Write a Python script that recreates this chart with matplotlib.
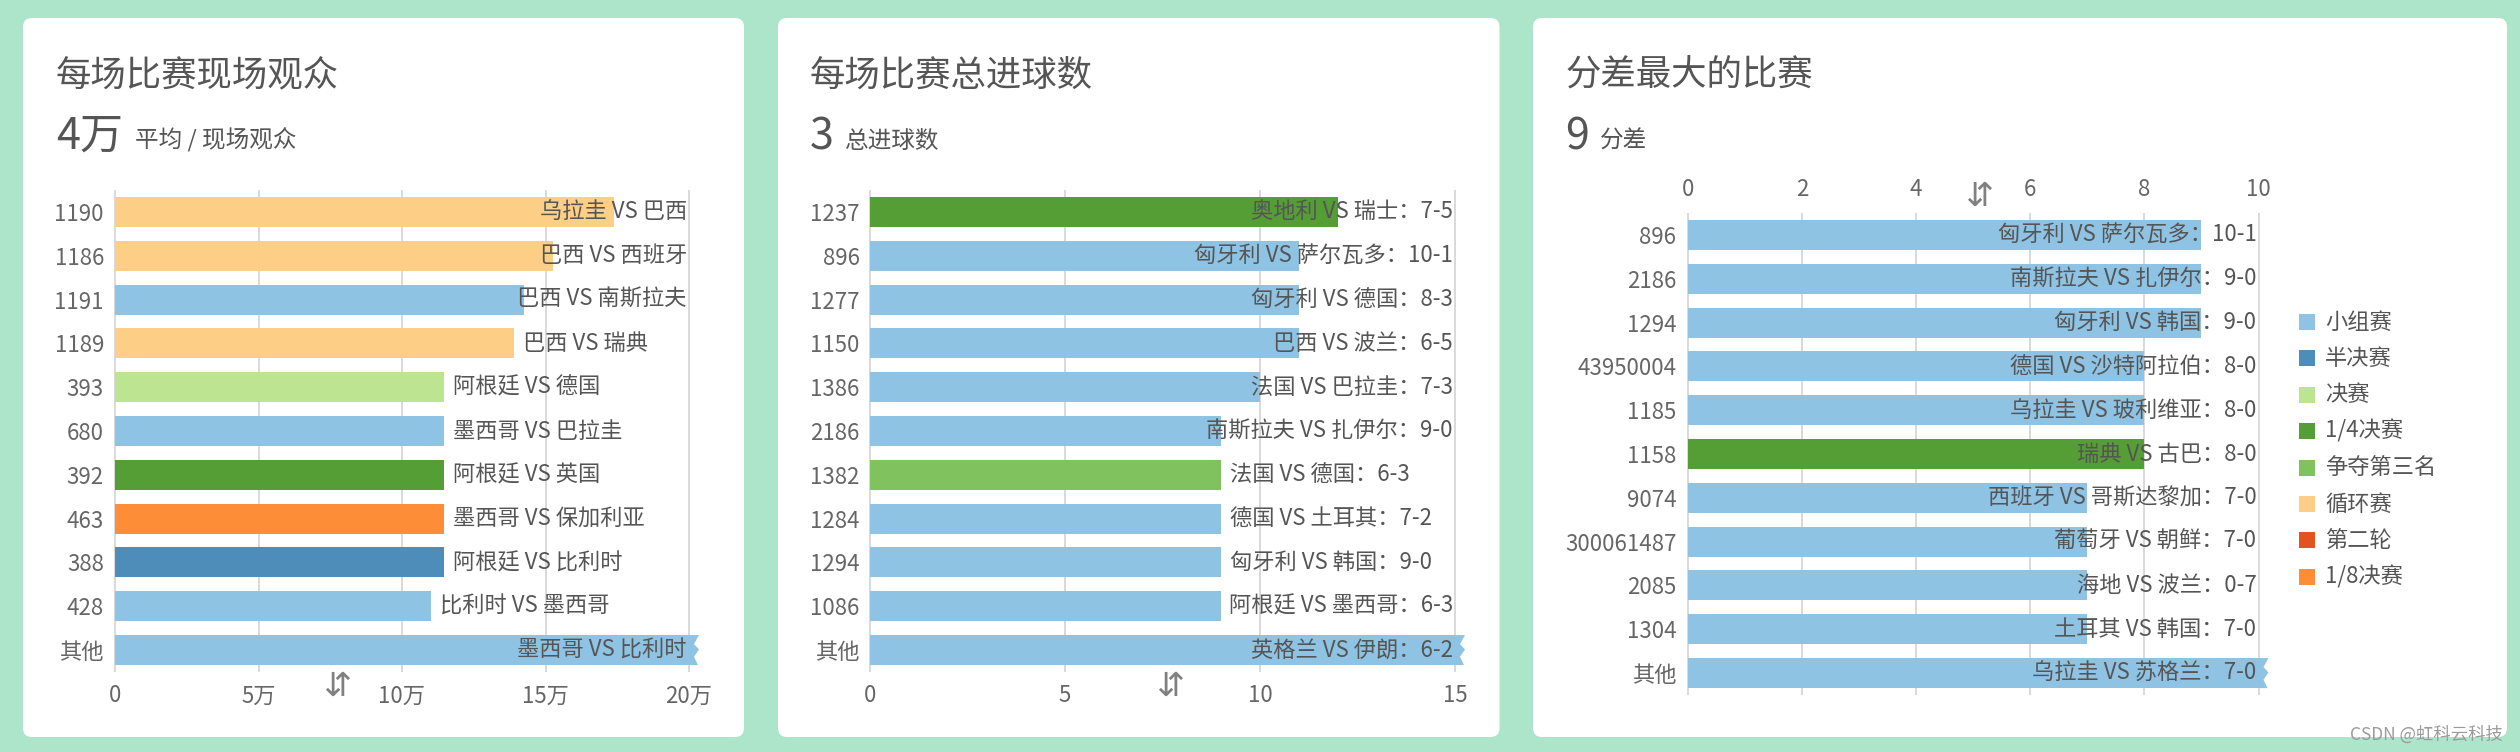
import matplotlib
matplotlib.use('Agg')
import matplotlib.pyplot as plt
from matplotlib.patches import FancyBboxPatch, Rectangle, Polygon
import numpy as np

plt.rcParams['font.family'] = ['Noto Sans CJK SC', 'DejaVu Sans']

# ---------------- data ----------------
stage_names = ['小组赛', '半决赛', '决赛', '1/4决赛', '争夺第三名', '循环赛', '第二轮', '1/8决赛']
stage_colors = ['#8fc3e4', '#4e8cba', '#bde591', '#559e36', '#7fc25e', '#fdce85', '#e4531f', '#fd8e37']

att_ids = ['1190', '1186', '1191', '1189', '393', '680', '392', '463', '388', '428', '其他']
att_matches = ['乌拉圭 VS 巴西', '巴西 VS 西班牙', '巴西 VS 南斯拉夫', '巴西 VS 瑞典', '阿根廷 VS 德国',
               '墨西哥 VS 巴拉圭', '阿根廷 VS 英国', '墨西哥 VS 保加利亚', '阿根廷 VS 比利时',
               '比利时 VS 墨西哥', '墨西哥 VS 比利时']
att_values = [173850, 152772, 142429, 138886, 114600, 114600, 114600, 114600, 114600, 110000, 36000000]
att_stages = ['循环赛', '循环赛', '小组赛', '循环赛', '决赛', '小组赛', '1/4决赛', '1/8决赛', '半决赛',
              '小组赛', '小组赛']
att_ticks = [0, 50000, 100000, 150000, 200000]
att_ticklabels = ['0', '5万', '10万', '15万', '20万']

goal_ids = ['1237', '896', '1277', '1150', '1386', '2186', '1382', '1284', '1294', '1086', '其他']
goal_matches = ['奥地利 VS 瑞士：7-5', '匈牙利 VS 萨尔瓦多：10-1', '匈牙利 VS 德国：8-3', '巴西 VS 波兰：6-5',
                '法国 VS 巴拉圭：7-3', '南斯拉夫 VS 扎伊尔：9-0', '法国 VS 德国：6-3', '德国 VS 土耳其：7-2',
                '匈牙利 VS 韩国：9-0', '阿根廷 VS 墨西哥：6-3', '英格兰 VS 伊朗：6-2']
goal_values = [12, 11, 11, 11, 10, 9, 9, 9, 9, 9, 2400]
goal_stages = ['1/4决赛', '小组赛', '小组赛', '小组赛', '小组赛', '小组赛', '争夺第三名', '小组赛', '小组赛',
               '小组赛', '小组赛']
goal_ticks = [0, 5, 10, 15]
goal_ticklabels = ['0', '5', '10', '15']

diff_ids = ['896', '2186', '1294', '43950004', '1185', '1158', '9074', '300061487', '2085', '1304', '其他']
diff_matches = ['匈牙利 VS 萨尔瓦多：10-1', '南斯拉夫 VS 扎伊尔：9-0', '匈牙利 VS 韩国：9-0',
                '德国 VS 沙特阿拉伯：8-0', '乌拉圭 VS 玻利维亚：8-0', '瑞典 VS 古巴：8-0',
                '西班牙 VS 哥斯达黎加：7-0', '葡萄牙 VS 朝鲜：7-0', '海地 VS 波兰：0-7',
                '土耳其 VS 韩国：7-0', '乌拉圭 VS 苏格兰：7-0']
diff_values = [9, 9, 9, 8, 8, 8, 7, 7, 7, 7, 1400]
diff_stages = ['小组赛', '小组赛', '小组赛', '小组赛', '小组赛', '1/4决赛', '小组赛', '小组赛', '小组赛',
               '小组赛', '小组赛']
diff_ticks = [0, 2, 4, 6, 8, 10]
diff_ticklabels = ['0', '2', '4', '6', '8', '10']

titles = ['每场比赛现场观众', '每场比赛总进球数', '分差最大的比赛']
kpi_values = ['4万', '3', '9']
kpi_units = ['平均 / 现场观众', '总进球数', '分差']

# ---------------- layout ----------------
W, H = 2520, 752
BG = '#ade5cb'
TXT = '#555555'
TICK = '#666666'
GRID = '#d9d9d9'

fig = plt.figure(figsize=(W / 100, H / 100), dpi=100)
fig.patch.set_facecolor(BG)


def fx(x):
    return x / W


def fy(y):
    return 1 - y / H


cards = [(23, 18, 744, 737), (778, 18, 1499.5, 737), (1533, 18, 2507, 737)]
for (x0, y0, x1, y1) in cards:
    fig.add_artist(FancyBboxPatch((x0 / 100, (H - y1) / 100), (x1 - x0) / 100, (y1 - y0) / 100,
                                  boxstyle='round,pad=0,rounding_size=0.09',
                                  transform=fig.dpi_scale_trans, fc='white', ec='none', zorder=-10))

title_x = [56, 810, 1565]
unit_x = [135, 845, 1600]
for i in range(3):
    fig.text(fx(title_x[i]), fy(86), titles[i], fontsize=25.5, color=TXT, va='baseline', ha='left')
    fig.text(fx(title_x[i]), fy(149), kpi_values[i], fontsize=31, color=TXT, va='baseline', ha='left',
             fontweight='light')
    fig.text(fx(unit_x[i]), fy(148), kpi_units[i], fontsize=17, color=TXT, va='baseline', ha='left')

axes_px = [(115, 190, 689, 672), (870, 190, 1455, 672), (1688, 213, 2258.5, 695)]
axs = []
for (x0, y0, x1, y1) in axes_px:
    ax = fig.add_axes([fx(x0), fy(y1), (x1 - x0) / W, (y1 - y0) / H])
    ax.set_facecolor('none')
    axs.append(ax)

color_of = dict(zip(stage_names, stage_colors))
BAR_H = 0.685


def draw_panel(ax, ids, values, matches, stages, ticks, ticklabels, top=False, ypad=8):
    n = len(ids)
    y = np.arange(n)
    xmax = ticks[-1]
    ax.set_xlim(0, xmax)
    ax.set_ylim(n - 0.5, -0.5)
    vals = np.array(values, dtype=float)
    shown = np.minimum(vals, xmax)
    cols = [color_of[s] for s in stages]
    ax.barh(y, shown, height=BAR_H, color=cols, zorder=2)
    ax.vlines(ticks, 0, 1, transform=ax.get_xaxis_transform(), colors=GRID, lw=1.4,
              zorder=1, clip_on=False)
    for s in ax.spines.values():
        s.set_visible(False)
    ax.set_xticks(ticks, ticklabels)
    ax.set_yticks(y, ids)
    ax.tick_params(axis='both', length=0, labelsize=16, labelcolor=TICK)
    ax.tick_params(axis='y', pad=ypad)
    ax.tick_params(axis='x', pad=9)
    if top:
        ax.xaxis.tick_top()
        ax.tick_params(axis='x', pad=9)

    # zigzag overflow ends
    bb = ax.get_window_extent()
    ppd = bb.width / xmax
    for i in range(n):
        if vals[i] > xmax:
            t, b = y[i] - BAR_H / 2, y[i] + BAR_H / 2
            h = b - t
            pts = [(xmax, t), (xmax + 10 / ppd, t), (xmax + 5 / ppd, t + 0.3 * h),
                   (xmax + 10 / ppd, t + 0.48 * h), (xmax + 5 / ppd, t + 0.72 * h),
                   (xmax + 9 / ppd, b), (xmax, b)]
            ax.add_patch(Polygon(pts, closed=True, fc=cols[i], ec='none', zorder=2, clip_on=False))
    return y, shown


fig.canvas.draw()
renderer = fig.canvas.get_renderer()

panels = [
    (att_ids, att_values, att_matches, att_stages, att_ticks, att_ticklabels, False, 8),
    (goal_ids, goal_values, goal_matches, goal_stages, goal_ticks, goal_ticklabels, False, 7.5),
    (diff_ids, diff_values, diff_matches, diff_stages, diff_ticks, diff_ticklabels, True, 8.5),
]

for ax, p in zip(axs, panels):
    ids, values, matches, stages, ticks, ticklabels, top, ypad = p
    y, shown = draw_panel(ax, ids, values, matches, stages, ticks, ticklabels, top, ypad)
    xmax = ticks[-1]
    right = ax.get_window_extent().x1
    for i in range(len(ids)):
        t = ax.annotate(matches[i], (shown[i], y[i]), xytext=(6.5, 0), textcoords='offset points',
                        ha='left', va='center', fontsize=16, color=TXT, zorder=4,
                        annotation_clip=False)
        ext = t.get_window_extent(renderer)
        if shown[i] >= xmax or ext.x1 > right - 1.5:
            t.xy = (xmax, y[i])
            t.xyann = (-1.5, 0)
            t.set_ha('right')

# sort icons
icons = [(337, 686), (1170, 686), (1979, 196)]
for (x, yv) in icons:
    fig.text(fx(x), fy(yv), '⇵', fontsize=24, color='#808080', ha='center', va='center',
             family='DejaVu Sans')

# legend
leg_x, leg_y0, leg_dy = 2299, 322, 36.4
for k, (nm, c) in enumerate(zip(stage_names, stage_colors)):
    yc = leg_y0 + k * leg_dy
    fig.add_artist(Rectangle((fx(leg_x), fy(yc + 8)), 16 / W, 16 / H, transform=fig.transFigure,
                             fc=c, ec='none'))
    fig.text(fx(2325), fy(yc), nm, fontsize=16, color=TXT, ha='left', va='center')

fig.text(fx(2503), fy(735), 'CSDN @虹科云科技', fontsize=12.5, color='#9a9a9a', ha='right', va='center')

fig.savefig('out.png', dpi=100, facecolor=BG)
